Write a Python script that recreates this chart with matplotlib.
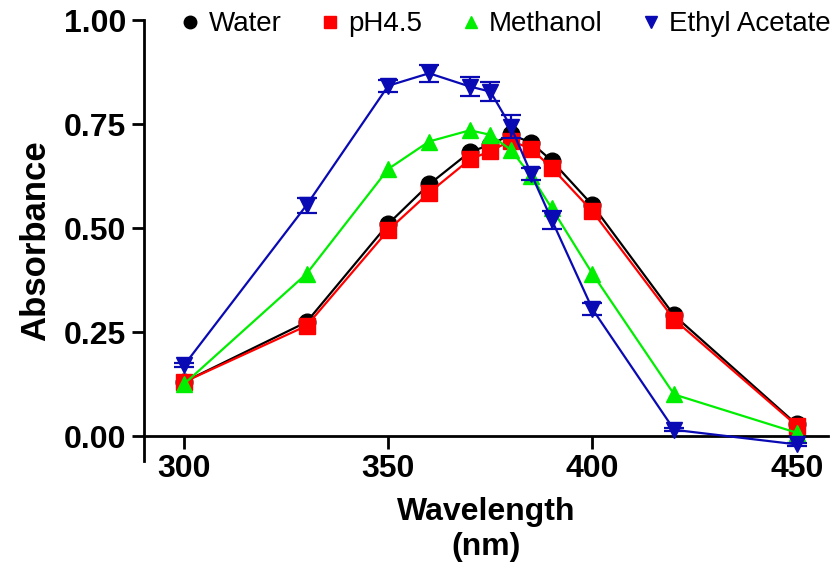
import matplotlib
matplotlib.use("Agg")
import matplotlib.pyplot as plt
from matplotlib.lines import Line2D

plt.rcParams['font.family'] = ['Liberation Sans', 'DejaVu Sans']

# Wavelength (nm)
wavelength = [300, 330, 350, 360, 370, 375, 380, 385, 390, 400, 420, 450]

# Absorbance per solvent
water = [0.13, 0.274, 0.51, 0.605, 0.683, 0.70, 0.725, 0.705, 0.662, 0.555, 0.29, 0.028]
ph45 = [0.13, 0.265, 0.495, 0.585, 0.665, 0.685, 0.71, 0.69, 0.645, 0.54, 0.28, 0.025]
methanol = [0.125, 0.39, 0.642, 0.708, 0.735, 0.724, 0.688, 0.625, 0.548, 0.39, 0.10, 0.008]
ethyl = [0.17, 0.555, 0.842, 0.872, 0.84, 0.828, 0.744, 0.63, 0.52, 0.305, 0.015, -0.02]
ethyl_err = [0.005, 0.018, 0.015, 0.02, 0.022, 0.022, 0.028, 0.015, 0.022, 0.015, 0.004, 0.004]

names = ["Water", "pH4.5", "Methanol", "Ethyl Acetate"]
colors = ["black", "#ff0000", "#00ee00", "#0a0ab4"]
markers = ["o", "s", "^", "v"]

fig = plt.figure(figsize=(8.37, 5.72), dpi=100)
ax = fig.add_axes([0.172, 0.194, 0.817, 0.771])

lw = 1.6
ms = 12
ax.plot(wavelength, water, color=colors[0], marker=markers[0], markersize=ms, lw=lw, zorder=3)
ax.plot(wavelength, ph45, color=colors[1], marker=markers[1], markersize=ms - 0.5, lw=lw, zorder=4)
ax.plot(wavelength, methanol, color=colors[2], marker=markers[2], markersize=ms, lw=lw, zorder=5)
ax.errorbar(wavelength, ethyl, yerr=ethyl_err, color=colors[3], marker=markers[3], markersize=ms, lw=lw,
            capsize=7, capthick=1.6, elinewidth=1.6, zorder=6)

ax.set_xlim(290.2, 457.6)
ax.set_ylim(-0.06, 1.0)
ax.set_xticks([300, 350, 400, 450])
ax.set_yticks([0, 0.25, 0.5, 0.75, 1.0])
ax.set_yticklabels(["0.00", "0.25", "0.50", "0.75", "1.00"])

ax.spines['top'].set_visible(False)
ax.spines['right'].set_visible(False)
ax.spines['bottom'].set_position(('data', 0))
ax.spines['left'].set_linewidth(2)
ax.spines['bottom'].set_linewidth(2)
ax.tick_params(axis='both', direction='out', length=9, width=2, labelsize=23, pad=4)
for lab in ax.get_xticklabels() + ax.get_yticklabels():
    lab.set_fontweight('bold')

ax.set_ylabel("Absorbance", fontsize=25, fontweight='bold', labelpad=8)
ax.set_xlabel("Wavelength\n(nm)", fontsize=23, fontweight='bold', labelpad=9, linespacing=1.25)

handles = [Line2D([], [], color=c, marker=m, linestyle='none', markersize=9)
           for c, m in zip(colors, markers)]
fig.legend(handles, names, loc='upper center', ncol=4, frameon=False,
           bbox_to_anchor=(0.605, 1.024), fontsize=20, handlelength=0.6,
           handletextpad=0.35, columnspacing=1.45)

fig.savefig("out.png", dpi=100)
